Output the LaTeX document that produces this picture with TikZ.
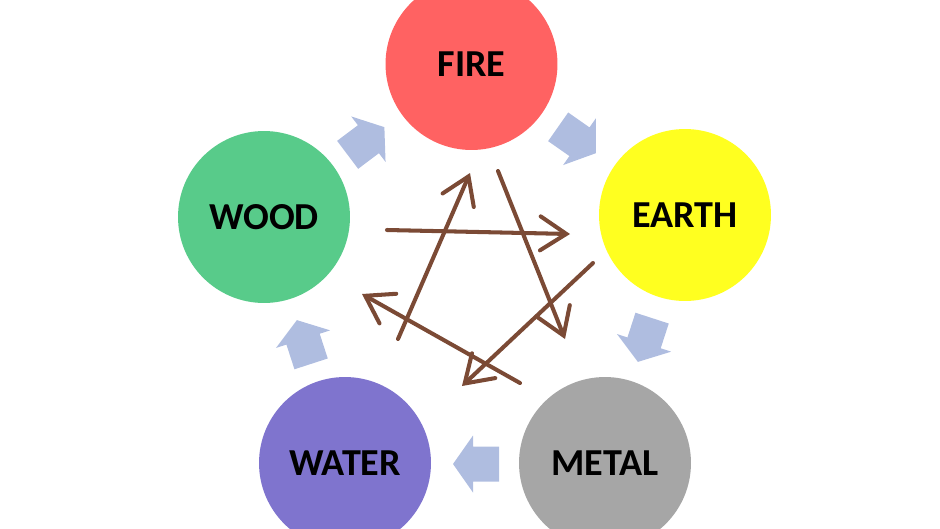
\documentclass[tikz,border=0pt]{standalone}
\usepackage{fontspec}
\setmainfont{Carlito}
\usetikzlibrary{arrows.meta}
\definecolor{firec}{RGB}{255,98,98}
\definecolor{earthc}{RGB}{255,255,32}
\definecolor{woodc}{RGB}{88,203,138}
\definecolor{waterc}{RGB}{127,116,206}
\definecolor{metalc}{RGB}{166,166,166}
\definecolor{barrowc}{RGB}{175,189,224}
\definecolor{brownc}{RGB}{123,74,53}
\tikzset{
  element/.style={circle, minimum size=3.44cm, inner sep=0pt, draw=none,
    font=\fontsize{21.7}{26}\selectfont\bfseries, text=black},
  brownarrow/.style={draw=brownc, line width=2.3pt, line cap=round, line join=round,
    -{Straight Barb[length=0.52cm,width=0.68cm,line cap=round]}},
  blockarrow/.pic={
    \fill[barrowc, x=0.02cm, y=0.02cm]
      (-23,-17.5) -- (3,-17.5) -- (3,-28.5) -- (23,0) -- (3,28.5) -- (3,17.5) -- (-23,17.5) -- cycle;
  }
}
\begin{document}
\begin{tikzpicture}[x=0.02cm, y=-0.02cm]
\useasboundingbox (0,0) rectangle (940,528);
\begin{scope}
\clip (0,0) rectangle (940,528);
\node[element, fill=firec]  (fire)  at (471.5,64)  {FIRE};
\node[element, fill=earthc] (earth) at (685,215)   {EARTH};
\node[element, fill=woodc]  (wood)  at (264,217)   {WOOD};
\node[element, fill=waterc] (water) at (345,463)   {WATER};
\node[element, fill=metalc] (metal) at (605,463)   {METAL};
\end{scope}
% block arrows of the generating cycle
\pic[rotate=37]   at (366,141) {blockarrow};
\pic[rotate=-35]  at (577,140) {blockarrow};
\pic[rotate=-108] at (645,340) {blockarrow};
\pic[rotate=180]  at (476,464) {blockarrow};
\pic[rotate=108]  at (304,342) {blockarrow};
% controlling cycle
\coordinate (woodS)  at (387,230);
\coordinate (earthE) at (570,234);
\coordinate (fireS)  at (498,171);
\coordinate (metalE) at (565,339);
\coordinate (earthS) at (593,263);
\coordinate (waterE) at (462,386);
\coordinate (metalS) at (520,383);
\coordinate (woodE)  at (362,294);
\coordinate (waterS) at (398,339);
\coordinate (fireE)  at (470,173);
\draw[brownarrow] (woodS)  -- (earthE);
\draw[brownarrow] (fireS)  -- (metalE);
\draw[brownarrow] (earthS) -- (waterE);
\draw[brownarrow] (metalS) -- (woodE);
\draw[brownarrow] (waterS) -- (fireE);
\end{tikzpicture}
\end{document}
